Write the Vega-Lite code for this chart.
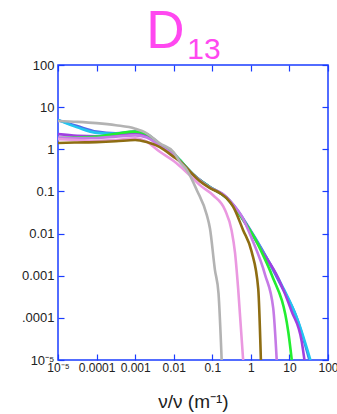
{
  "$schema": "https://vega.github.io/schema/vega-lite/v6.json",
  "autosize": "none",
  "width": 270,
  "height": 295,
  "padding": {"left": 58, "top": 65, "right": 9, "bottom": 54},
  "background": "white",
  "config": {
    "view": {"stroke": "#1a3cff", "strokeWidth": 1.5},
    "axis": {"grid": false, "domain": false, "tickColor": "#1a3cff", "tickWidth": 1.2, "tickSize": -6, "labelFont": "Liberation Sans", "labelColor": "#222", "titleFont": "Liberation Sans", "titleFontWeight": "normal", "titleColor": "#222"}
  },
  "data": {"values": [
    {"s":"blue","x":1e-5,"y":4.9},{"s":"blue","x":3.16e-5,"y":3.55},{"s":"blue","x":1e-4,"y":2.63},{"s":"blue","x":3.16e-4,"y":2.4},{"s":"blue","x":1e-3,"y":2.63},{"s":"blue","x":2e-3,"y":2.29},{"s":"blue","x":4.37e-3,"y":1.32},{"s":"blue","x":0.01,"y":0.79},{"s":"blue","x":0.0145,"y":0.55},{"s":"blue","x":0.0324,"y":0.25},{"s":"blue","x":0.0871,"y":0.127},{"s":"blue","x":0.234,"y":0.0724},{"s":"blue","x":0.427,"y":0.038},{"s":"blue","x":0.859,"y":0.0145},{"s":"blue","x":1.91,"y":0.0043},{"s":"blue","x":6.0,"y":0.0006},{"s":"blue","x":15.5,"y":0.0001},{"s":"blue","x":33,"y":1e-5},
    {"s":"cyan","x":1e-5,"y":5.0},{"s":"cyan","x":3.16e-5,"y":3.31},{"s":"cyan","x":1e-4,"y":2.45},{"s":"cyan","x":3.16e-4,"y":2.34},{"s":"cyan","x":1e-3,"y":2.57},{"s":"cyan","x":2e-3,"y":2.24},{"s":"cyan","x":4.37e-3,"y":1.32},{"s":"cyan","x":0.01,"y":0.79},{"s":"cyan","x":0.0145,"y":0.55},{"s":"cyan","x":0.0324,"y":0.25},{"s":"cyan","x":0.0871,"y":0.126},{"s":"cyan","x":0.234,"y":0.0708},{"s":"cyan","x":0.427,"y":0.0372},{"s":"cyan","x":0.859,"y":0.0138},{"s":"cyan","x":1.91,"y":0.00417},{"s":"cyan","x":6.31,"y":0.000603},{"s":"cyan","x":16.98,"y":0.0000813},{"s":"cyan","x":35,"y":1e-5},
    {"s":"purple","x":1e-5,"y":2.29},{"s":"purple","x":3.16e-5,"y":2.09},{"s":"purple","x":1e-4,"y":2.04},{"s":"purple","x":3.16e-4,"y":2.14},{"s":"purple","x":1e-3,"y":2.4},{"s":"purple","x":2e-3,"y":2.14},{"s":"purple","x":4.37e-3,"y":1.29},{"s":"purple","x":0.01,"y":0.776},{"s":"purple","x":0.0145,"y":0.537},{"s":"purple","x":0.0324,"y":0.25},{"s":"purple","x":0.0871,"y":0.126},{"s":"purple","x":0.234,"y":0.0708},{"s":"purple","x":0.427,"y":0.0363},{"s":"purple","x":0.859,"y":0.0135},{"s":"purple","x":1.91,"y":0.00398},{"s":"purple","x":5.13,"y":0.000871},{"s":"purple","x":11.48,"y":0.000141},{"s":"purple","x":20.9,"y":0.0000269},{"s":"purple","x":24.5,"y":1e-5},
    {"s":"green","x":1e-5,"y":1.86},{"s":"green","x":3.16e-5,"y":1.91},{"s":"green","x":1e-4,"y":2.0},{"s":"green","x":3.16e-4,"y":2.34},{"s":"green","x":1e-3,"y":2.63},{"s":"green","x":2e-3,"y":2.29},{"s":"green","x":4.37e-3,"y":1.32},{"s":"green","x":0.01,"y":0.79},{"s":"green","x":0.0145,"y":0.55},{"s":"green","x":0.0324,"y":0.25},{"s":"green","x":0.0871,"y":0.126},{"s":"green","x":0.234,"y":0.0708},{"s":"green","x":0.427,"y":0.0355},{"s":"green","x":0.859,"y":0.0138},{"s":"green","x":1.29,"y":0.0075},{"s":"green","x":2.0,"y":0.0033},{"s":"green","x":3.47,"y":0.00105},{"s":"green","x":9.33,"y":0.0000468},{"s":"green","x":11.5,"y":1e-5},
    {"s":"orchid","x":1e-5,"y":1.91},{"s":"orchid","x":3.16e-5,"y":1.86},{"s":"orchid","x":1e-4,"y":1.86},{"s":"orchid","x":3.16e-4,"y":2.0},{"s":"orchid","x":1e-3,"y":2.14},{"s":"orchid","x":2e-3,"y":1.91},{"s":"orchid","x":4.37e-3,"y":1.2},{"s":"orchid","x":0.01,"y":0.741},{"s":"orchid","x":0.0145,"y":0.525},{"s":"orchid","x":0.0324,"y":0.245},{"s":"orchid","x":0.0871,"y":0.123},{"s":"orchid","x":0.19,"y":0.0871},{"s":"orchid","x":0.355,"y":0.0479},{"s":"orchid","x":0.631,"y":0.0224},{"s":"orchid","x":1.047,"y":0.00776},{"s":"orchid","x":2.34,"y":0.00105},{"s":"orchid","x":3.8,"y":0.00017},{"s":"orchid","x":4.68,"y":1e-5},
    {"s":"pink","x":1e-5,"y":1.74},{"s":"pink","x":3.16e-5,"y":1.66},{"s":"pink","x":1e-4,"y":1.58},{"s":"pink","x":3.16e-4,"y":1.66},{"s":"pink","x":1e-3,"y":1.82},{"s":"pink","x":2e-3,"y":1.51},{"s":"pink","x":4.37e-3,"y":0.871},{"s":"pink","x":0.01,"y":0.525},{"s":"pink","x":0.0145,"y":0.398},{"s":"pink","x":0.0324,"y":0.2},{"s":"pink","x":0.0479,"y":0.141},{"s":"pink","x":0.105,"y":0.0813},{"s":"pink","x":0.214,"y":0.0363},{"s":"pink","x":0.316,"y":0.012},{"s":"pink","x":0.389,"y":0.00347},{"s":"pink","x":0.468,"y":0.0005},{"s":"pink","x":0.631,"y":1e-5},
    {"s":"olive","x":1e-5,"y":1.41},{"s":"olive","x":3.16e-5,"y":1.45},{"s":"olive","x":1e-4,"y":1.48},{"s":"olive","x":3.16e-4,"y":1.55},{"s":"olive","x":1e-3,"y":1.66},{"s":"olive","x":2e-3,"y":1.48},{"s":"olive","x":4.37e-3,"y":1.12},{"s":"olive","x":0.01,"y":0.661},{"s":"olive","x":0.0145,"y":0.513},{"s":"olive","x":0.0324,"y":0.245},{"s":"olive","x":0.0479,"y":0.174},{"s":"olive","x":0.0871,"y":0.12},{"s":"olive","x":0.158,"y":0.0912},{"s":"olive","x":0.234,"y":0.0692},{"s":"olive","x":0.347,"y":0.0437},{"s":"olive","x":0.631,"y":0.012},{"s":"olive","x":1.047,"y":0.00372},{"s":"olive","x":1.55,"y":0.0005},{"s":"olive","x":1.82,"y":1e-5},
    {"s":"gray","x":1e-5,"y":4.68},{"s":"gray","x":3.16e-5,"y":4.47},{"s":"gray","x":1e-4,"y":4.17},{"s":"gray","x":3.16e-4,"y":3.72},{"s":"gray","x":1e-3,"y":3.09},{"s":"gray","x":2e-3,"y":2.4},{"s":"gray","x":4.37e-3,"y":1.38},{"s":"gray","x":0.01,"y":0.85},{"s":"gray","x":0.0145,"y":0.5},{"s":"gray","x":0.0219,"y":0.324},{"s":"gray","x":0.0398,"y":0.107},{"s":"gray","x":0.0716,"y":0.0282},{"s":"gray","x":0.0871,"y":0.0132},{"s":"gray","x":0.117,"y":0.00138},{"s":"gray","x":0.145,"y":0.00038},{"s":"gray","x":0.175,"y":1e-5}
  ]},
  "layer": [
    {
      "mark": {"type": "line", "strokeWidth": 2.6, "interpolate": "monotone", "clip": true},
      "encoding": {
        "x": {"field": "x", "type": "quantitative", "scale": {"type": "log", "domain": [1e-5, 100], "nice": false},
          "axis": {"orient": "bottom", "values": [1e-5, 1e-4, 1e-3, 0.01, 0.1, 1, 10, 100], "labelFontSize": 12, "labelPadding": 8, "labelFlush": false,
            "labelExpr": "datum.value < 5e-5 ? '10⁻⁵' : datum.value < 5e-4 ? '0.0001' : datum.value < 5e-3 ? '0.001' : datum.value < 0.05 ? '0.01' : datum.value < 0.5 ? '0.1' : datum.value < 5 ? '1' : datum.value < 50 ? '10' : '100'",
            "encode": {"labels": {"update": {"dx": {"signal": "datum.value < 5e-5 ? 3 : 0"}}}},
            "title": "ν/ν (m⁻¹)", "titleFontSize": 19, "titlePadding": 19}},
        "y": {"field": "y", "type": "quantitative", "scale": {"type": "log", "domain": [1e-5, 100], "nice": false},
          "axis": {"orient": "left", "values": [1e-5, 1e-4, 1e-3, 0.01, 0.1, 1, 10, 100], "labelFontSize": 13, "labelPadding": 10, "labelFlush": false,
            "labelExpr": "datum.value < 5e-5 ? '10⁻⁵' : datum.value < 5e-4 ? '.0001' : datum.value < 5e-3 ? '0.001' : datum.value < 0.05 ? '0.01' : datum.value < 0.5 ? '0.1' : datum.value < 5 ? '1' : datum.value < 50 ? '10' : '100'",
            "encode": {"labels": {"update": {"dy": {"signal": "datum.value < 5e-5 ? -4 : 0"}}}},
            "title": null}},
        "color": {"field": "s", "type": "nominal", "legend": null,
          "scale": {"domain": ["blue", "cyan", "purple", "green", "orchid", "pink", "olive", "gray"],
            "range": ["#4f6be8", "#22c6f0", "#a040e0", "#22ee30", "#c57ae6", "#ea98e0", "#8e6d12", "#b3b3b3"]}}
      }
    },
    {
      "mark": {"type": "line", "opacity": 0},
      "encoding": {
        "x": {"field": "x", "type": "quantitative", "scale": {"type": "log", "domain": [1e-5, 100], "nice": false},
          "axis": {"orient": "top", "values": [1e-5, 1e-4, 1e-3, 0.01, 0.1, 1, 10, 100], "labels": false,
            "title": "13", "titleFont": "Liberation Sans", "titleFontSize": 30, "titleColor": "#ff48f0", "titleX": 145.5, "titleY": -7, "titleAlign": "center", "titleBaseline": "alphabetic", "titleAngle": 0}},
        "y": {"field": "y", "type": "quantitative", "scale": {"type": "log", "domain": [1e-5, 100], "nice": false},
          "axis": {"orient": "right", "values": [1e-5, 1e-4, 1e-3, 0.01, 0.1, 1, 10, 100], "labels": false,
            "title": "D", "titleFont": "Liberation Sans", "titleFontSize": 53, "titleColor": "#ff48f0", "titleX": -163, "titleY": -18, "titleAlign": "center", "titleBaseline": "alphabetic", "titleAngle": 0}},
        "detail": {"field": "s"}
      }
    }
  ]
}
